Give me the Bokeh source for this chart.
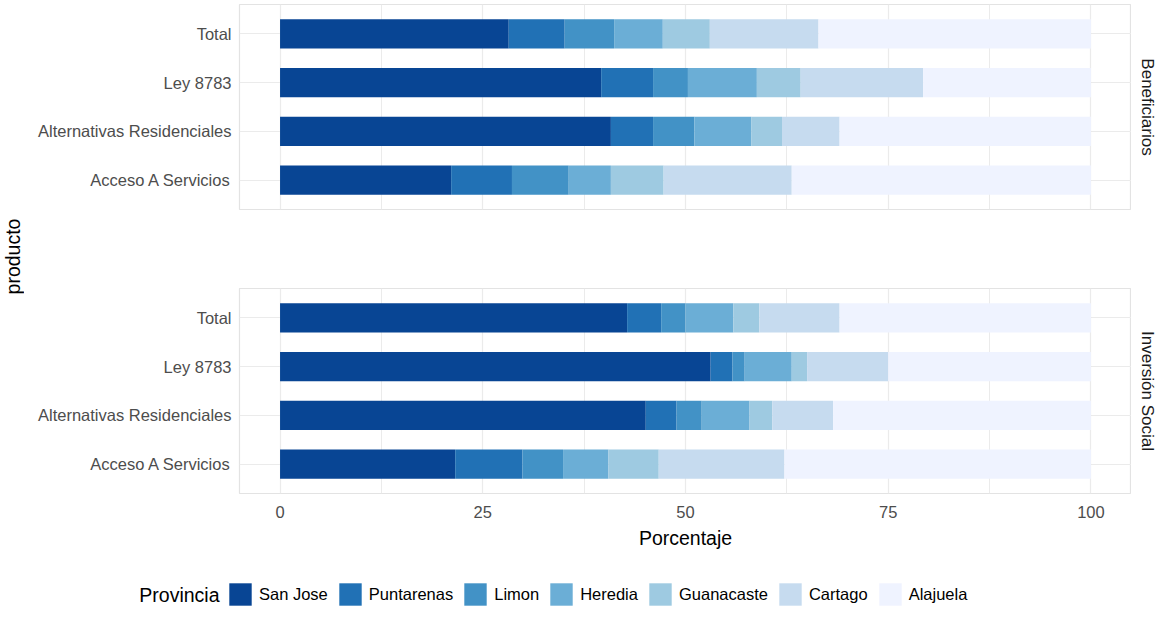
from math import pi
from bokeh.plotting import figure
from bokeh.models import (ColumnDataSource, FactorRange, Range1d, FixedTicker,
                          Legend, LegendItem, Label, Grid)
from bokeh.layouts import column, row
from bokeh.embed import file_html
from bokeh.resources import INLINE

# ---------------- data ----------------
productos = ["Total", "Ley 8783", "Alternativas Residenciales", "Acceso A Servicios"]
provincias = ["San Jose", "Puntarenas", "Limon", "Heredia", "Guanacaste", "Cartago", "Alajuela"]
colores = ["#084594", "#2171B5", "#4292C6", "#6BAED6", "#9ECAE1", "#C6DBEF", "#EFF3FF"]
paneles = ["Beneficiarios", "Inversión Social"]
x_ticks = [0, 25, 50, 75, 100]
x_minor = [12.5, 37.5, 62.5, 87.5]

# values per provincia, in the order of `productos`
beneficiarios = {
    "San Jose":   [28.2, 39.6, 40.8, 21.1],
    "Puntarenas": [6.9, 6.4, 5.2, 7.5],
    "Limon":      [6.1, 4.3, 5.1, 7.0],
    "Heredia":    [6.0, 8.5, 7.0, 5.2],
    "Guanacaste": [5.8, 5.4, 3.8, 6.5],
    "Cartago":    [13.4, 15.1, 7.1, 15.8],
    "Alajuela":   [33.6, 20.7, 31.0, 36.9],
}
inversion = {
    "San Jose":   [42.8, 53.1, 45.1, 21.6],
    "Puntarenas": [4.2, 2.7, 3.8, 8.3],
    "Limon":      [3.0, 1.5, 3.1, 5.0],
    "Heredia":    [5.9, 5.8, 5.9, 5.6],
    "Guanacaste": [3.2, 1.9, 2.8, 6.2],
    "Cartago":    [9.9, 10.0, 7.5, 15.5],
    "Alajuela":   [31.0, 25.0, 31.8, 37.8],
}

FONT = "Liberation Sans"
GRID = "#EBEBEB"

TOTAL_W = 1156
PANELS_H = 555        # height of the two facet panels incl. x axis
LEGEND_H = 56
LEFT_W = 24
MID_W = 1107
RIGHT_W = 25
FRAME_LEFT = 215      # inside the middle column


def blank(width, height):
    p = figure(width=width, height=height, output_backend="svg",
               toolbar_location=None, title=None,
               x_axis_location=None, y_axis_location=None,
               x_range=Range1d(0, 1), y_range=Range1d(0, 1),
               min_border=0, min_border_left=0, min_border_right=0,
               min_border_top=0, min_border_bottom=0)
    p.grid.visible = False
    p.outline_line_color = None
    p.background_fill_color = "white"
    p.border_fill_color = "white"
    return p


def make_panel(valores, h, mt, mb, with_x):
    yr = FactorRange(factors=list(reversed(productos)),
                     range_padding=0.05, range_padding_units="percent")
    p = figure(width=MID_W, height=h, x_range=Range1d(-5, 105), y_range=yr,
               output_backend="svg", toolbar_location=None, title=None,
               x_axis_location="below" if with_x else None,
               min_border_left=FRAME_LEFT, min_border_right=0,
               min_border_top=mt, min_border_bottom=mb)
    data = {"producto": productos}
    data.update(valores)
    src = ColumnDataSource(data)
    rs = p.hbar_stack(provincias, y="producto", height=0.6, color=colores,
                      line_color=None, source=src)

    p.xgrid.visible = False
    p.add_layout(Grid(dimension=0,
                      ticker=FixedTicker(ticks=x_ticks, minor_ticks=x_minor),
                      grid_line_color=GRID, grid_line_width=1.2,
                      minor_grid_line_color=GRID, minor_grid_line_width=1.0))
    p.ygrid.grid_line_color = GRID
    p.ygrid.grid_line_width = 1.2

    p.outline_line_color = "#E3E3E3"
    p.outline_line_width = 1.2
    p.background_fill_color = "white"
    p.border_fill_color = "white"

    p.yaxis.axis_line_color = None
    p.yaxis.major_tick_line_color = None
    p.yaxis.minor_tick_line_color = None
    p.yaxis.major_tick_out = 0
    p.yaxis.major_label_standoff = 8
    p.yaxis.major_label_text_font = FONT
    p.yaxis.major_label_text_font_size = "16.5px"
    p.yaxis.major_label_text_color = "#4D4D4D"

    if with_x:
        p.xaxis.ticker = FixedTicker(ticks=x_ticks)
        p.xaxis.axis_line_color = None
        p.xaxis.major_tick_line_color = None
        p.xaxis.minor_tick_line_color = None
        p.xaxis.major_tick_out = 0
        p.xaxis.major_label_standoff = 12
        p.xaxis.major_label_text_font = FONT
        p.xaxis.major_label_text_font_size = "16.5px"
        p.xaxis.major_label_text_color = "#4D4D4D"
        p.xaxis.axis_label = "Porcentaje"
        p.xaxis.axis_label_text_font = FONT
        p.xaxis.axis_label_text_font_size = "19.5px"
        p.xaxis.axis_label_text_font_style = "normal"
        p.xaxis.axis_label_text_color = "black"
        p.xaxis.axis_label_standoff = 6
    return p, rs


# panels: p1 spans page y 0..288 (frame 4..209), p2 spans 288..555 (frame 288..493)
p1, r1 = make_panel(beneficiarios, 288, 4, 79, False)
p2, r2 = make_panel(inversion, PANELS_H - 288, 0, 62, True)

# left strip with the shared y-axis title
pl = blank(LEFT_W, PANELS_H)
pl.add_layout(Label(x=12, y=PANELS_H - 256, x_units="screen", y_units="screen",
                    text="producto", angle=pi / 2, text_align="center",
                    text_baseline="middle", text_font=FONT,
                    text_font_size="19.5px", text_color="black"))

# right strip with the facet labels
pr = blank(RIGHT_W, PANELS_H)
for titulo, yc in zip(paneles, [106.5, 390.5]):
    pr.add_layout(Label(x=16, y=PANELS_H - yc, x_units="screen", y_units="screen",
                        text=titulo, angle=-pi / 2, text_align="center",
                        text_baseline="middle", text_font=FONT,
                        text_font_size="17px", text_color="#1A1A1A"))

# legend strip (full width, page y 555..611)
p3 = blank(TOTAL_W, LEGEND_H)
dummies = [p3.hbar(y=[0.5], left=[0], right=[0], height=0.6, color=c,
                   line_color=None) for c in colores]   # zero-size: keys only
items = [LegendItem(label=prov, renderers=[r]) for prov, r in zip(provincias, dummies)]
legend = Legend(items=items, orientation="horizontal", location=(226, 3),
                glyph_width=28, glyph_height=28, label_standoff=5, spacing=8,
                padding=0, margin=0, border_line_color=None,
                background_fill_alpha=0, label_text_font=FONT,
                label_text_font_size="16.5px", label_text_color="black",
                label_text_baseline="middle")
p3.add_layout(legend, "center")
p3.add_layout(Label(x=219, y=17, x_units="screen", y_units="screen",
                    text="Provincia", text_align="right", text_baseline="middle",
                    text_font=FONT, text_font_size="19.5px", text_color="black"))

top = row(pl, column(p1, p2, spacing=0), pr, spacing=0)
layout = column(top, p3, spacing=0)
open("out.html", "w").write(file_html(layout, INLINE))
